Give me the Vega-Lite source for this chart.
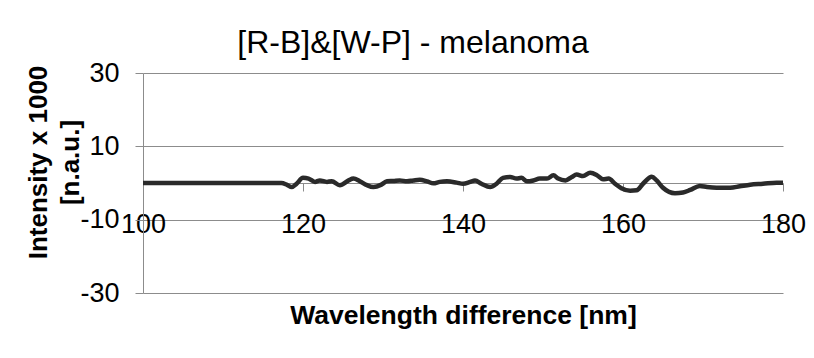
{
  "$schema": "https://vega.github.io/schema/vega-lite/v6.json",
  "width": 640,
  "height": 220,
  "autosize": {"type": "none"},
  "padding": {"left": 143, "top": 73, "right": 31, "bottom": 65},
  "background": "white",
  "config": {"view": {"stroke": null}, "font": "Liberation Sans"},
  "title": {"text": "[R-B]&[W-P] - melanoma", "fontSize": 32, "fontWeight": "normal", "font": "Liberation Sans", "color": "black", "dx": -50, "offset": -1},
  "data": {"values": [
    {"wavelength": 100, "intensity": 0},
    {"wavelength": 105, "intensity": 0},
    {"wavelength": 110, "intensity": 0},
    {"wavelength": 115, "intensity": 0},
    {"wavelength": 117.3, "intensity": 0},
    {"wavelength": 118, "intensity": -0.5},
    {"wavelength": 118.6, "intensity": -1.1},
    {"wavelength": 119.2, "intensity": -0.2},
    {"wavelength": 120.0, "intensity": 1.4},
    {"wavelength": 120.7, "intensity": 1.2},
    {"wavelength": 121.5, "intensity": 0.3},
    {"wavelength": 122.1, "intensity": 0.7},
    {"wavelength": 123.0, "intensity": 0.3},
    {"wavelength": 123.6, "intensity": 0.5},
    {"wavelength": 124.6, "intensity": -0.6},
    {"wavelength": 125.7, "intensity": 0.7},
    {"wavelength": 126.3, "intensity": 1.2},
    {"wavelength": 127.1, "intensity": 0.5},
    {"wavelength": 128.0, "intensity": -0.6},
    {"wavelength": 128.8, "intensity": -1.1},
    {"wavelength": 129.8, "intensity": -0.45},
    {"wavelength": 130.5, "intensity": 0.45},
    {"wavelength": 131.3, "intensity": 0.55},
    {"wavelength": 132.1, "intensity": 0.7},
    {"wavelength": 133.0, "intensity": 0.45},
    {"wavelength": 133.8, "intensity": 0.7},
    {"wavelength": 134.6, "intensity": 0.9},
    {"wavelength": 135.5, "intensity": 0.45},
    {"wavelength": 136.3, "intensity": -0.1},
    {"wavelength": 137.1, "intensity": 0.3},
    {"wavelength": 138.0, "intensity": 0.45},
    {"wavelength": 139.2, "intensity": 0.1},
    {"wavelength": 140.0, "intensity": -0.2},
    {"wavelength": 140.9, "intensity": 0.3},
    {"wavelength": 141.5, "intensity": 0.7},
    {"wavelength": 142.3, "intensity": -0.2},
    {"wavelength": 143.4, "intensity": -1.1},
    {"wavelength": 144.2, "intensity": -0.2},
    {"wavelength": 145.0, "intensity": 1.4},
    {"wavelength": 145.9, "intensity": 1.65},
    {"wavelength": 146.7, "intensity": 1.2},
    {"wavelength": 147.3, "intensity": 1.4},
    {"wavelength": 148.0, "intensity": 0.45},
    {"wavelength": 148.8, "intensity": 0.7},
    {"wavelength": 149.6, "intensity": 1.2},
    {"wavelength": 150.5, "intensity": 1.2},
    {"wavelength": 151.3, "intensity": 2.1},
    {"wavelength": 151.9, "intensity": 1.2},
    {"wavelength": 152.8, "intensity": 0.7},
    {"wavelength": 153.6, "intensity": 1.65},
    {"wavelength": 154.2, "intensity": 2.3},
    {"wavelength": 155.0, "intensity": 1.9},
    {"wavelength": 155.9, "intensity": 2.8},
    {"wavelength": 156.7, "intensity": 2.2},
    {"wavelength": 157.5, "intensity": 1.0},
    {"wavelength": 158.2, "intensity": 1.2},
    {"wavelength": 159.0, "intensity": -0.2},
    {"wavelength": 159.8, "intensity": -1.4},
    {"wavelength": 160.9, "intensity": -2.1},
    {"wavelength": 161.7, "intensity": -2.0},
    {"wavelength": 162.5, "intensity": -0.2},
    {"wavelength": 163.6, "intensity": 1.7},
    {"wavelength": 164.2, "intensity": 0.7},
    {"wavelength": 165.0, "intensity": -1.3},
    {"wavelength": 166.5, "intensity": -2.8},
    {"wavelength": 167.5, "intensity": -2.6},
    {"wavelength": 168.4, "intensity": -1.9},
    {"wavelength": 169.6, "intensity": -0.8},
    {"wavelength": 170.5, "intensity": -1.1},
    {"wavelength": 171.7, "intensity": -1.3},
    {"wavelength": 173.4, "intensity": -1.3},
    {"wavelength": 174.6, "intensity": -0.9},
    {"wavelength": 175.9, "intensity": -0.45},
    {"wavelength": 177.5, "intensity": -0.2},
    {"wavelength": 179.2, "intensity": 0.1},
    {"wavelength": 180.0, "intensity": 0.1}
  ]},
  "mark": {"type": "line", "color": "#2a2a2a", "strokeWidth": 4.5, "interpolate": "monotone"},
  "encoding": {
    "x": {
      "field": "wavelength", "type": "quantitative",
      "scale": {"domain": [100, 180], "nice": false, "zero": false},
      "axis": {
        "values": [100, 120, 140, 160, 180], "offset": -110, "grid": false,
        "domainColor": "#8c8c8c", "tickColor": "#8c8c8c", "tickSize": 8,
        "labelPadding": 20, "labelFontSize": 27, "labelColor": "black", "labelFont": "Liberation Sans",
        "labelFlush": false, "labelOverlap": false,
        "title": "Wavelength difference [nm]", "titleFontSize": 26.5, "titleFontWeight": "bold",
        "titleColor": "black", "titleFont": "Liberation Sans", "titlePadding": 65
      }
    },
    "y": {
      "field": "intensity", "type": "quantitative",
      "scale": {"domain": [-30, 30], "nice": false},
      "axis": {
        "values": [-30, -10, 10, 30], "grid": true, "gridColor": "#8c8c8c",
        "domainColor": "#8c8c8c", "tickColor": "#8c8c8c", "tickSize": 8,
        "labelPadding": 16, "labelFontSize": 27, "labelColor": "black", "labelFont": "Liberation Sans",
        "labelExpr": "'' + datum.value",
        "title": ["Intensity x 1000", "[n.a.u.]"], "titleX": -105, "titleY": 89,
        "titleAlign": "center", "titleBaseline": "middle", "titleLineHeight": 32, "titleAngle": -90,
        "titleFontSize": 26, "titleFontWeight": "bold", "titleColor": "black", "titleFont": "Liberation Sans"
      }
    }
  }
}
